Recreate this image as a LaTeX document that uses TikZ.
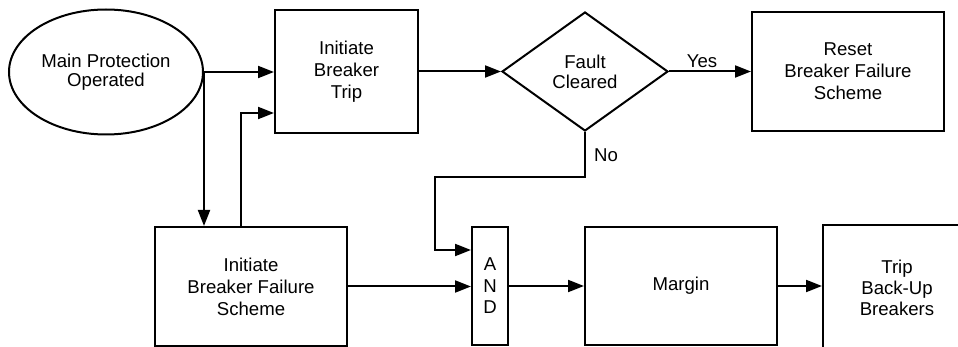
\documentclass[tikz,border=0pt]{standalone}
\usepackage{fontspec}
\setmainfont{Liberation Sans}
\usetikzlibrary{shapes.geometric,arrows.meta}
\begin{document}
\begin{tikzpicture}[x=1pt,y=-1pt,
  every node/.style={font=\fontsize{18.6}{22}\selectfont, align=center, inner sep=0pt},
  boxn/.style={draw, line width=2pt, rectangle},
  arr/.style={line width=2pt, -{Triangle[length=16pt,width=12pt]}},
  ln/.style={line width=2pt}]
\useasboundingbox (0,0) rectangle (958,347);
\fill[white] (0,0) rectangle (958,347);
\clip (0,0) rectangle (958,347);
\node[draw, ellipse, line width=2pt, minimum width=194pt, minimum height=125pt,
      font=\fontsize{18.6}{18.5}\selectfont] (ell) at (106,72) {Main Protection\\Operated};
\node[boxn, minimum width=143pt, minimum height=123pt] (ibt) at (346.5,71.5) {Initiate\\Breaker\\Trip};
\node[draw, diamond, line width=2pt, minimum width=166pt, minimum height=119pt,
      font=\fontsize{18.6}{20}\selectfont] (dia) at (585,71.5) {Fault\\Cleared};
\node[boxn, minimum width=192pt, minimum height=119pt] (reset) at (848,71.5) {Reset\\Breaker Failure\\Scheme};
\node[boxn, minimum width=192pt, minimum height=119pt] (ibfs) at (251,286.5) {Initiate\\Breaker Failure\\Scheme};
\node[boxn, minimum width=36pt, minimum height=118pt, font=\fontsize{18.6}{21.5}\selectfont] (and) at (490,286) {A\\N\\D};
\node[boxn, minimum width=192pt, minimum height=118pt] (margin) at (681,286) {Margin};
\node[boxn, minimum width=148pt, minimum height=126pt, font=\fontsize{18.6}{21}\selectfont] (trip) at (897,288) {Trip\\Back-Up\\Breakers};
\node (yes) at (702,61) {Yes};
\node (no) at (606,155) {No};
\draw[arr] (ell.east) -- (ell.east -| ibt.west);
\draw[arr] (ell.east) -- (ell.east |- ibfs.north);
\draw[arr] ([xshift=-10pt]ibfs.north) |- ([yshift=-41.5pt]ibt.west);
\draw[arr] (ibt.east) -- (dia.west);
\draw[arr] (dia.east) -- (reset.west);
\draw[arr] (dia.south) -- ++(0,45) -| ([xshift=-36pt,yshift=36pt]and.west) -- ([yshift=36pt]and.west);
\draw[arr] (ibfs.east) -- (ibfs.east -| and.west);
\draw[arr] (and.east) -- (margin.west);
\draw[arr] (margin.east) -- (margin.east -| trip.west);
\end{tikzpicture}
\end{document}
